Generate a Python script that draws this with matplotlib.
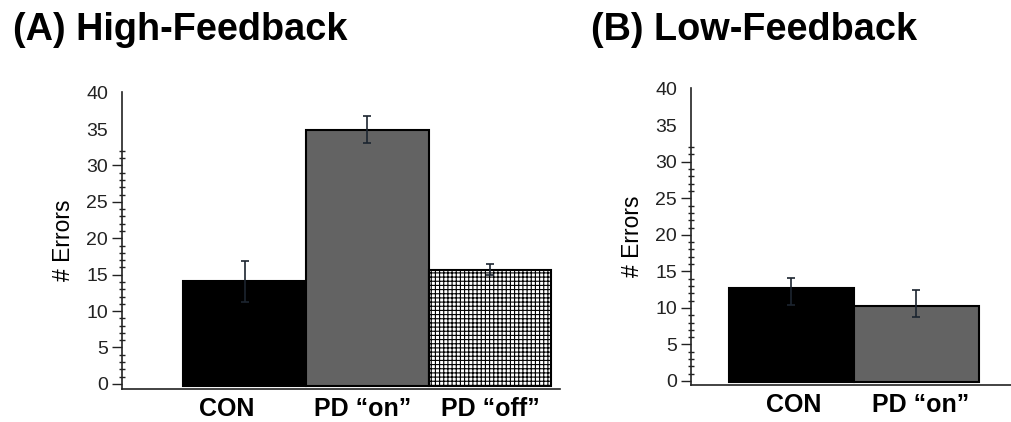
#!/usr/bin/env python3
import numpy as np
import matplotlib
matplotlib.use('Agg')
import matplotlib.pyplot as plt
from matplotlib.ticker import FixedLocator

plt.rcParams['font.family'] = ['Liberation Sans', 'DejaVu Sans']
plt.rcParams['hatch.linewidth'] = 0.8
plt.rcParams['hatch.color'] = '#333333'

# (A) High-Feedback
a_labels = ['CON', 'PD \u201con\u201d', 'PD \u201coff\u201d']
a_vals = [14.1, 34.9, 15.7]
a_err = [2.8, 1.85, 0.75]

# (B) Low-Feedback
b_labels = ['CON', 'PD \u201con\u201d']
b_vals = [12.7, 10.3]
b_err_lo = [2.3, 1.6]
b_err_hi = [1.4, 2.1]

FACE = ['black', '#636363', 'white']
HATCH = [None, None, '++++']
ECOL = '#1c2530'

fig = plt.figure(figsize=(10.11, 4.22), dpi=100)


def style_axis(ax, ylim):
    ax.set_ylim(*ylim)
    for s in ('top', 'right'):
        ax.spines[s].set_visible(False)
    for s in ('left', 'bottom'):
        ax.spines[s].set_linewidth(1.2)
        ax.spines[s].set_color('#222222')
    ax.set_yticks(np.arange(0, 41, 5))
    ax.yaxis.set_minor_locator(FixedLocator([v for v in range(0, 33) if v % 5]))
    ax.tick_params(axis='y', which='major', direction='out', length=7, width=1.0,
                   labelsize=14, pad=3, colors='#222222')
    ax.tick_params(axis='y', which='minor', direction='inout', length=5, width=1.0,
                   colors='#222222')
    for t in ax.yaxis.get_major_ticks()[-2:]:
        t.tick1line.set_markersize(0)
    ax.tick_params(axis='x', length=0, labelsize=18, pad=6)
    for lab in ax.get_xticklabels():
        lab.set_fontweight('bold')
    ax.set_ylabel('# Errors', fontsize=16.5, labelpad=8)


# ---------- (A) ----------
ax = fig.add_axes([0.1207, 0.0782, 0.4332, 0.704])
x = np.arange(len(a_vals))
base = -0.35
ax.bar(x, np.array(a_vals) - base, bottom=base, width=1.0, color=FACE, hatch=HATCH,
       edgecolor='black', linewidth=1.5, zorder=2)
ax.errorbar(x, a_vals, yerr=a_err, fmt='none', ecolor=ECOL, elinewidth=1.2,
            capsize=3, capthick=1.2, zorder=3)
ax.set_xlim(-1.0, 2.57)
ax.set_xticks(x + np.array([-0.15, -0.04, 0.0]))
ax.set_xticklabels(a_labels)
style_axis(ax, (-0.7, 40.1))

# ---------- (B) ----------
ax = fig.add_axes([0.6835, 0.0877, 0.3165, 0.7038])
x = np.arange(len(b_vals))
base = -0.2
ax.bar(x, np.array(b_vals) - base, bottom=base, width=1.0, color=FACE[:2],
       edgecolor='black', linewidth=1.5, zorder=2)
ax.errorbar(x, b_vals, yerr=[b_err_lo, b_err_hi], fmt='none', ecolor=ECOL,
            elinewidth=1.2, capsize=3, capthick=1.2, zorder=3)
ax.set_xlim(-0.8, 1.76)
ax.set_xticks(x + np.array([0.02, 0.04]))
ax.set_xticklabels(b_labels)
style_axis(ax, (-0.55, 40.1))

fig.text(13 / 1011, 1 - 40 / 422, '(A) High-Feedback', fontsize=27.3, fontweight='bold',
         va='baseline', ha='left')
fig.text(591 / 1011, 1 - 40 / 422, '(B) Low-Feedback', fontsize=27.3, fontweight='bold',
         va='baseline', ha='left')

fig.savefig('out.png', dpi=100)
